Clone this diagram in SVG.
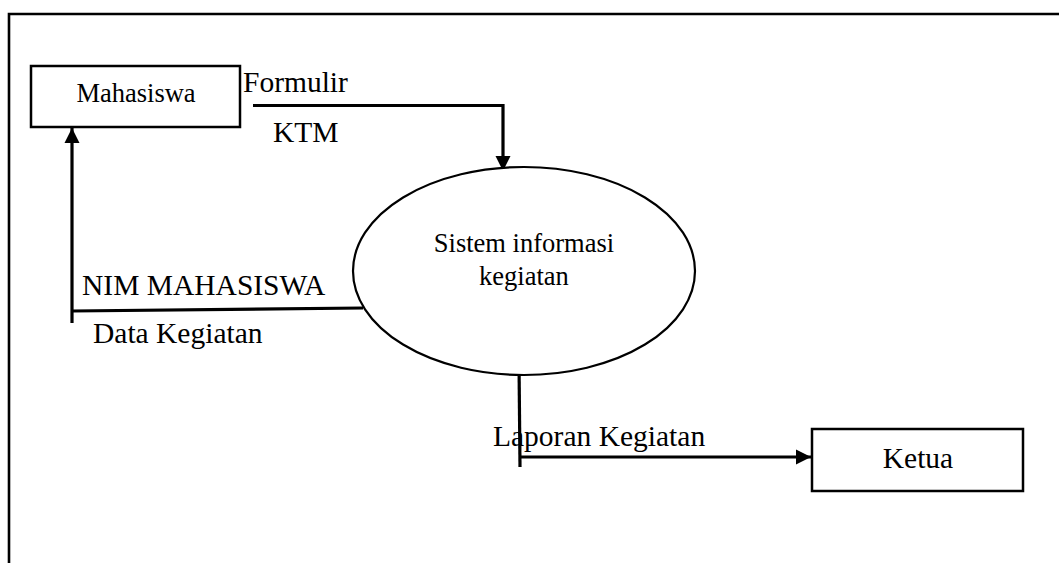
<svg xmlns="http://www.w3.org/2000/svg" width="1059" height="563" viewBox="0 0 1059 563">
  <style>
    .box { fill: #ffffff; stroke: #000000; stroke-width: 2.5; }
    .proc { fill: #ffffff; stroke: #000000; stroke-width: 2.2; }
    .flow { fill: none; stroke: #000000; stroke-width: 3.2; }
    .t { font-family: "Liberation Serif", "Times New Roman", serif; fill: #000000; }
    .node-label { font-size: 26.5px; }
    .flow-label { font-size: 29.5px; }
  </style>
  <defs>
    <marker id="arrow" markerUnits="userSpaceOnUse" markerWidth="16" markerHeight="16" viewBox="0 0 16 16" refX="15" refY="8" orient="auto">
      <path d="M0,0.5 L15,8 L0,15.5 Z" fill="#000000"/>
    </marker>
  </defs>
  <rect width="1059" height="563" fill="#ffffff"/>
  <path d="M9,563 L9,14 L1059,14" fill="none" stroke="#000000" stroke-width="2.6"/>

  <g id="connectors">
    <path class="flow" d="M253,105.5 L503,105.5 L503,171" marker-end="url(#arrow)"/>
    <path class="flow" d="M72,323 L72,128" marker-end="url(#arrow)"/>
    <path class="flow" d="M72,311 L363,308"/>
    <path class="flow" d="M519,362 L520,467"/>
    <path class="flow" d="M520,457 L811,457" marker-end="url(#arrow)"/>
    <text class="t flow-label" x="243" y="92">Formulir</text>
    <text class="t flow-label" x="273" y="142">KTM</text>
    <text class="t flow-label" x="82" y="295">NIM MAHASISWA</text>
    <text class="t flow-label" x="93" y="343">Data Kegiatan</text>
    <text class="t flow-label" x="493" y="446">Laporan Kegiatan</text>
  </g>

  <g id="node-mahasiswa">
    <rect class="box" x="31" y="66" width="209" height="61"/>
    <text class="t node-label" x="136" y="102" text-anchor="middle">Mahasiswa</text>
  </g>

  <g id="node-sistem">
    <ellipse class="proc" cx="524" cy="271" rx="171" ry="104"/>
    <text class="t node-label" x="524" y="252" text-anchor="middle">Sistem informasi</text>
    <text class="t node-label" x="524" y="285" text-anchor="middle">kegiatan</text>
  </g>

  <g id="node-ketua">
    <rect class="box" x="812" y="429" width="211" height="62"/>
    <text class="t flow-label" x="918" y="468" text-anchor="middle">Ketua</text>
  </g>
</svg>
